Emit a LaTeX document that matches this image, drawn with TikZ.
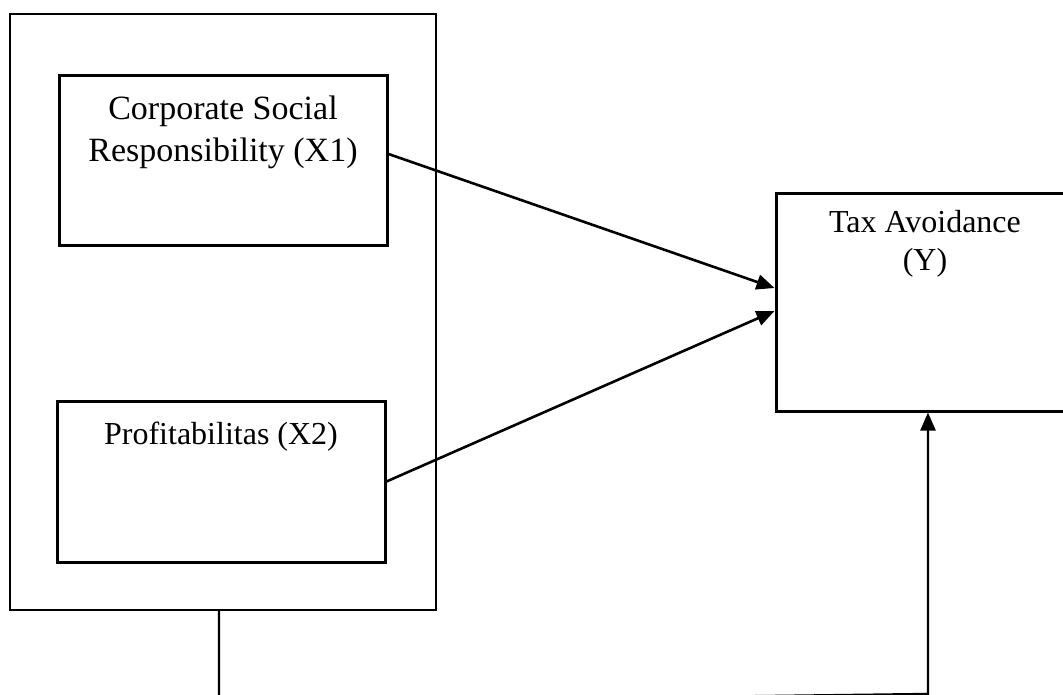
\documentclass[tikz,border=0pt]{standalone}
\usepackage{fontspec}
\setmainfont{Liberation Serif}
\usetikzlibrary{positioning, arrows.meta, calc}

\begin{document}
\begin{tikzpicture}[x=1pt, y=-1pt,
    box/.style={draw, line width=3pt, minimum width=328pt},
    lbl/.style={align=center, inner sep=0pt, anchor=north},
    arr/.style={line width=2.6pt, -{Triangle[length=18pt, width=15pt]}}]
    \useasboundingbox (0,0) rectangle (1063,695);
    % independent variables
    \node[draw, line width=2.2pt, minimum width=426pt, minimum height=596pt] (outer) at (223,312) {};
    \node[box, minimum height=170pt] (csr) at (223,161) {};
    \node[lbl, below=21pt of csr.north, font=\fontsize{34}{42}\selectfont] (csrtxt) {Corporate Social\\Responsibility (X1)};
    \node[box, minimum height=161pt] (prof) at (221,481.5) {};
    \node[lbl, below=22pt of prof.north, font=\fontsize{32}{39}\selectfont] (proftxt) {Profitabilitas (X2)};
    % dependent variable
    \node[box, minimum width=298pt, minimum height=217pt] (ty) at (925,302.5) {};
    \node[lbl, below=18pt of ty.north, font=\fontsize{32}{38}\selectfont] (tytxt) {Tax Avoidance\\(Y)};
    % connectors
    \draw[arr] ([yshift=7pt]csr.east) -- ([yshift=14.5pt]ty.west);
    \draw[arr] (prof.east) -- ([yshift=-8.5pt]ty.west);
    \coordinate (bl) at (219,703);
    \coordinate (br) at (928,694);
    \draw[arr, line width=2.4pt] (outer.south -| bl) -- (bl) -- (br) -- (br |- ty.south);
\end{tikzpicture}
\end{document}
